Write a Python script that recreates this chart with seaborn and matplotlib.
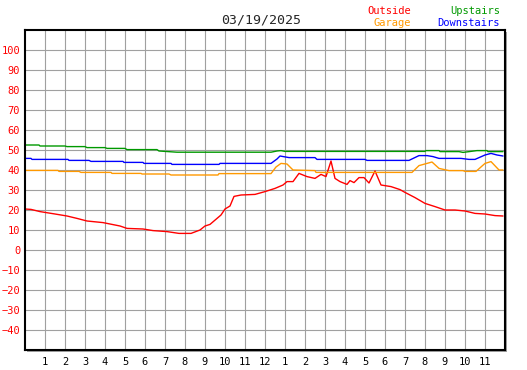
import matplotlib
matplotlib.use("Agg")
import matplotlib.pyplot as plt
from matplotlib.patches import Rectangle
import seaborn as sns

# Data (hours since midnight, degrees)
outside_h = [0, 0.3, 0.75, 1.5, 2.1, 2.6, 3.1, 3.9, 4.75, 5.1, 5.9, 6.4, 7.1, 7.7,
             8.3, 8.75, 9.0, 9.25, 9.8, 10.0, 10.25, 10.45, 10.8, 11.5, 12.0, 12.5,
             12.9, 13.1, 13.4, 13.7, 14.1, 14.5, 14.8, 15.05, 15.3, 15.5, 15.75,
             16.1, 16.25, 16.45, 16.7, 16.95, 17.2, 17.5, 17.8, 18.3, 18.75, 19.0,
             19.5, 20.0, 20.5, 21.0, 21.5, 22.0, 22.5, 23.0, 23.5, 23.9]
outside = [20.5, 20.3, 19.2, 18.0, 17.0, 15.8, 14.5, 13.7, 12.0, 10.8, 10.5, 9.7, 9.2, 8.3,
           8.3, 10.0, 12.0, 12.8, 17.5, 20.5, 22.0, 26.8, 27.5, 27.8, 29.2, 30.8,
           32.5, 34.2, 34.2, 38.3, 36.7, 35.8, 37.8, 36.7, 44.5, 35.8, 34.2,
           32.8, 34.7, 33.7, 36.2, 36.2, 33.5, 39.5, 32.5, 31.7, 30.2, 28.8,
           26.2, 23.3, 21.7, 20.0, 20.0, 19.5, 18.3, 18.0, 17.2, 17.0]

garage_h = [0, 1.65, 1.7, 2.7, 2.8, 4.3, 4.35, 5.8, 5.85, 7.2, 7.3, 9.65, 9.7, 12.3,
            12.55, 12.8, 13.1, 13.4, 14.5, 14.55, 19.35, 19.7, 20.1, 20.35, 20.7,
            21.2, 21.9, 22.0, 22.55, 23.0, 23.3, 23.7, 23.9]
garage = [39.8, 39.8, 39.3, 39.3, 38.8, 38.8, 38.3, 38.3, 38.0, 38.0, 37.5, 37.5, 38.2, 38.2,
          41.5, 43.3, 43.0, 40.0, 39.7, 38.8, 38.8, 42.2, 43.3, 44.0, 40.8,
          39.7, 39.7, 39.3, 39.3, 43.3, 44.2, 40.0, 40.0]

upstairs_h = [0, 0.7, 0.75, 2.0, 2.1, 3.0, 3.1, 4.0, 4.1, 5.0, 5.1, 6.6, 6.7, 7.6,
              12.3, 12.6, 12.8, 13.0, 20.0, 20.05, 20.7, 20.75, 21.7, 21.9, 22.6,
              23.1, 23.15, 23.9]
upstairs = [52.5, 52.5, 52.0, 52.0, 51.7, 51.7, 51.2, 51.2, 50.8, 50.8, 50.2, 50.2, 49.5, 48.9,
            48.9, 49.5, 49.7, 49.3, 49.3, 49.7, 49.7, 49.2, 49.2, 48.8, 49.7,
            49.7, 49.2, 49.2]

downstairs_h = [0, 0.3, 0.35, 2.15, 2.2, 3.2, 3.3, 4.9, 4.95, 5.9, 5.95, 7.3, 7.35, 9.7,
                9.75, 12.3, 12.6, 12.75, 13.2, 14.5, 14.6, 17.0, 17.1, 19.2, 19.7,
                20.1, 20.4, 20.7, 21.8, 22.2, 22.5, 23.0, 23.3, 23.6, 23.9]
downstairs = [45.8, 45.8, 45.3, 45.3, 44.8, 44.8, 44.3, 44.3, 43.8, 43.8, 43.3, 43.3, 42.8, 42.8,
              43.3, 43.3, 45.5, 47.0, 46.2, 46.2, 45.3, 45.3, 44.8, 44.8, 47.2,
              47.2, 46.7, 45.8, 45.8, 45.3, 45.3, 47.5, 48.3, 47.5, 47.0]

hour_ticks = list(range(1, 24))
hour_labels = [str(h if h <= 12 else h - 12) for h in hour_ticks]
temp_ticks = list(range(-40, 101, 10))

sns.set_style("white")
plt.rcParams['font.family'] = ['DejaVu Sans Mono']

W, H = 527, 370
fig = plt.figure(figsize=(W / 100, H / 100), dpi=100)
ax = fig.add_axes([25 / W, 20 / H, 480 / W, 320 / H])

# drop shadow to the right / below the frame
fig.patches.append(Rectangle((27 / W, 18 / H), 480 / W, 320 / H, transform=fig.transFigure,
                             facecolor="#a0a0a0", edgecolor="none", zorder=-1))

sns.lineplot(x=outside_h, y=outside, color="#ff0000", linewidth=1, ax=ax)
sns.lineplot(x=garage_h, y=garage, color="#ff9900", linewidth=1, ax=ax)
sns.lineplot(x=downstairs_h, y=downstairs, color="#0000ff", linewidth=1, ax=ax)
sns.lineplot(x=upstairs_h, y=upstairs, color="#009900", linewidth=1, ax=ax)

ax.set_xlim(0, 24)
ax.set_ylim(-50, 110)
ax.set_xticks(hour_ticks)
ax.set_xticklabels(hour_labels)
ax.set_yticks(temp_ticks)
ax.grid(True, color="#a0a0a0", linewidth=0.8)
ax.set_axisbelow(True)
ax.tick_params(axis="both", direction="in", length=3.6, width=1,
               color="black", labelsize=7.5)
ax.tick_params(axis="y", labelcolor="#ff0000", pad=3.5)
ax.tick_params(axis="x", labelcolor="black", pad=5)
for s in ax.spines.values():
    s.set_color("black")
    s.set_linewidth(1.5)
ax.set_xlabel("")
ax.set_ylabel("")

fig.text(261 / W, 1 - 20 / H, "03/19/2025", ha="center", va="center", fontsize=9.5)
fig.text(411 / W, 1 - 11 / H, "Outside", ha="right", va="center", fontsize=7.5, color="#ff0000")
fig.text(411 / W, 1 - 23 / H, "Garage", ha="right", va="center", fontsize=7.5, color="#ff9900")
fig.text(500 / W, 1 - 11 / H, "Upstairs", ha="right", va="center", fontsize=7.5, color="#009900")
fig.text(500 / W, 1 - 23 / H, "Downstairs", ha="right", va="center", fontsize=7.5, color="#0000ff")

fig.savefig("out.png", dpi=100, facecolor="white")
